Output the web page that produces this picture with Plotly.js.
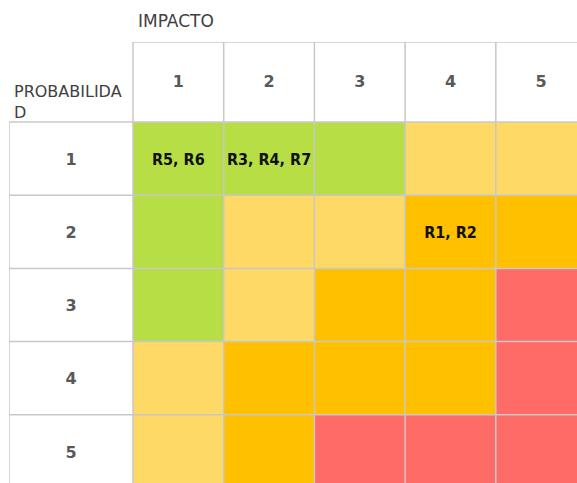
<!DOCTYPE html>
<html>
<head>
<meta charset="utf-8">
<script src="https://cdn.plot.ly/plotly-3.0.1.min.js"></script>
<style>html,body{margin:0;padding:0;background:#fff;}#chart{width:577px;height:483px;}</style>
</head>
<body>
<div id="chart"></div>
<script>
// ---- data ----
const impacto = [1, 2, 3, 4, 5];          // columns
const probabilidad = [1, 2, 3, 4, 5];     // rows
// risk level per cell: 1 green, 2 light yellow, 3 orange, 4 red
const nivel = [
  [1, 1, 1, 2, 2],
  [1, 2, 2, 3, 3],
  [1, 2, 3, 3, 4],
  [2, 3, 3, 3, 4],
  [2, 3, 4, 4, 4]
];
const riesgoTexto = ["R5, R6", "R3, R4, R7", "R1, R2"];
const riesgoImpacto = [1, 2, 4];
const riesgoProb = [1, 1, 2];
const colores = ["#b7de44", "#ffd966", "#ffc000", "#ff6b67"];

// ---- layout geometry (axis units: one cell = 1) ----
const labelLeft = -0.867;   // left edge of the row-label column
const headerTop = -0.593;   // top edge of the header row
const xMax = 5.395, yMax = 5.432;
const textNudge = 0.03;     // small downward nudge of cell text

const colorscale = colores.map((c, i) => [i / (colores.length - 1), c]);

const heat = {
  type: 'heatmap',
  x: impacto, y: probabilidad, z: nivel,
  zmin: 1, zmax: 4, colorscale: colorscale,
  showscale: false, hoverinfo: 'skip'
};

const headerY = (headerTop + 0.5) / 2;
const labelX = (labelLeft + 0.5) / 2;
const numFont = {family: 'DejaVu Sans', size: 16, color: '#595959', weight: 'bold'};

const colHeaders = {
  type: 'scatter', mode: 'text',
  x: impacto, y: impacto.map(() => headerY + textNudge / 2),
  text: impacto.map(String),
  textfont: numFont,
  hoverinfo: 'skip', cliponaxis: false
};
const rowHeaders = {
  type: 'scatter', mode: 'text',
  x: probabilidad.map(() => labelX), y: probabilidad.map(v => v + textNudge),
  text: probabilidad.map(String),
  textfont: numFont,
  hoverinfo: 'skip', cliponaxis: false
};
const riesgos = {
  type: 'scatter', mode: 'text',
  x: riesgoImpacto, y: riesgoProb.map(v => v + textNudge), text: riesgoTexto,
  textfont: {family: 'DejaVu Sans Condensed, Liberation Sans Narrow, sans-serif', size: 16, color: '#111111', weight: 'bold'},
  hoverinfo: 'skip', cliponaxis: false
};

// grid lines
const gridColor = '#c8c8c8', gw = 1.5;
const shapes = [];
const xEdges = impacto.map(v => v - 0.5).concat([impacto[impacto.length - 1] + 0.5]);
const yEdges = probabilidad.map(v => v - 0.5).concat([probabilidad[probabilidad.length - 1] + 0.5]);
shapes.push({type: 'line', xref: 'x', yref: 'y', x0: labelLeft, x1: labelLeft, y0: yEdges[0], y1: yMax + 1, line: {color: gridColor, width: gw}, layer: 'above'});
xEdges.forEach(xe => shapes.push({type: 'line', xref: 'x', yref: 'y', x0: xe, x1: xe, y0: headerTop, y1: yMax + 1, line: {color: gridColor, width: gw}, layer: 'above'}));
shapes.push({type: 'line', xref: 'x', yref: 'y', x0: xEdges[0], x1: xMax + 1, y0: headerTop, y1: headerTop, line: {color: gridColor, width: gw}, layer: 'above'});
yEdges.forEach(ye => shapes.push({type: 'line', xref: 'x', yref: 'y', x0: labelLeft, x1: xMax + 1, y0: ye, y1: ye, line: {color: gridColor, width: gw}, layer: 'above'}));

const layout = {
  width: 577, height: 483,
  margin: {l: 9, r: 0, t: 42, b: 0, pad: 0},
  paper_bgcolor: '#ffffff', plot_bgcolor: '#ffffff',
  showlegend: false,
  xaxis: {range: [labelLeft, xMax], visible: false, fixedrange: true},
  yaxis: {range: [yMax, headerTop], visible: false, fixedrange: true},
  shapes: shapes,
  annotations: [
    {text: 'IMPACTO', xref: 'paper', yref: 'paper', x: 0.223, y: 1.047, xanchor: 'left', yanchor: 'middle',
     showarrow: false, font: {family: 'DejaVu Sans', size: 17, color: '#404040'}},
    {text: 'PROBABILIDA<br>D', xref: 'paper', yref: 'paper', x: 0.006, y: 0.864, xanchor: 'left', yanchor: 'middle',
     align: 'left', showarrow: false, font: {family: 'DejaVu Sans', size: 16, color: '#404040'}}
  ]
};

Plotly.newPlot('chart', [heat, colHeaders, rowHeaders, riesgos], layout, {displayModeBar: false, staticPlot: true});
</script>
</body>
</html>
